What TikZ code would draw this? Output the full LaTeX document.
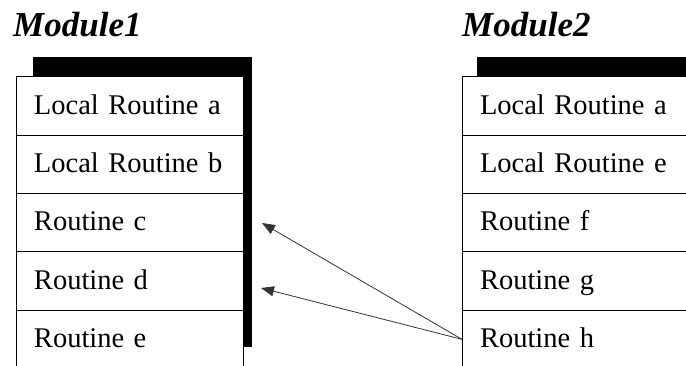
\documentclass[tikz,border=0pt]{standalone}
\usepackage{fontspec}
\setmainfont{Liberation Serif}
\usetikzlibrary{positioning}
\usetikzlibrary{arrows.meta}
\tikzset{>={Triangle[width=10pt,length=13pt]}}

\begin{document}
\begin{tikzpicture}[x=1pt,y=1pt]
      %%%%%%%%%%%%%%%%%%%%%%%%%%%%%%%%%%%%%%%%%%%%%%%%%% 
      %% two modules and their routines
      %%%%%%%%%%%%%%%%%%%%%%%%%%%%%%%%%%%%%%%%%%%%%%%%%% 
      \tikzstyle{rnode} = [draw, line width=1pt, rectangle, fill=white, outer sep=0pt, inner xsep=18pt, inner ysep=0pt, minimum height=58.3pt, text width=191pt, text height=22pt, text depth=6pt, align=left, font=\fontsize{28.5}{31}\selectfont]
      \tikzstyle{tnode} = [inner sep=0pt, anchor=base west, font=\fontsize{35}{37}\selectfont\bfseries\itshape]
      \tikzstyle{shadow} = [fill=black]
      \useasboundingbox (0,0) rectangle (686,365);
      \clip (0,0) rectangle (686,365);
      % Module1
      \node[tnode] (t1) at (13,328) {Module1};
      \fill[shadow] (33,308) rectangle (252,18);
      \node[rnode, anchor=north west] (m1a) at (16,288) {Local Routine a};
      \node[rnode, below=0pt of m1a] (m1b) {Local Routine b};
      \node[rnode, below=0pt of m1b] (m1c) {Routine c};
      \node[rnode, below=0pt of m1c] (m1d) {Routine d};
      \node[rnode, below=0pt of m1d] (m1e) {Routine e};
      % Module2
      \node[tnode] (t2) at (462,328) {Module2};
      \fill[shadow] (477,308) rectangle (720,18);
      \node[rnode, anchor=north west, text width=220pt] (m2a) at (462,288) {Local Routine a};
      \node[rnode, below=0pt of m2a, text width=220pt] (m2e) {Local Routine e};
      \node[rnode, below=0pt of m2e, text width=220pt] (m2f) {Routine f};
      \node[rnode, below=0pt of m2f, text width=220pt] (m2g) {Routine g};
      \node[rnode, below=0pt of m2g, text width=220pt] (m2h) {Routine h};
      % calls
      \coordinate (pc) at (262,142);
      \coordinate (pd) at (261,77);
      \draw[->, line width=0.8pt, black!80] (m2h.west) -- (pc);
      \draw[->, line width=0.8pt, black!80] (m2h.west) -- (pd);
\end{tikzpicture}
\end{document}
